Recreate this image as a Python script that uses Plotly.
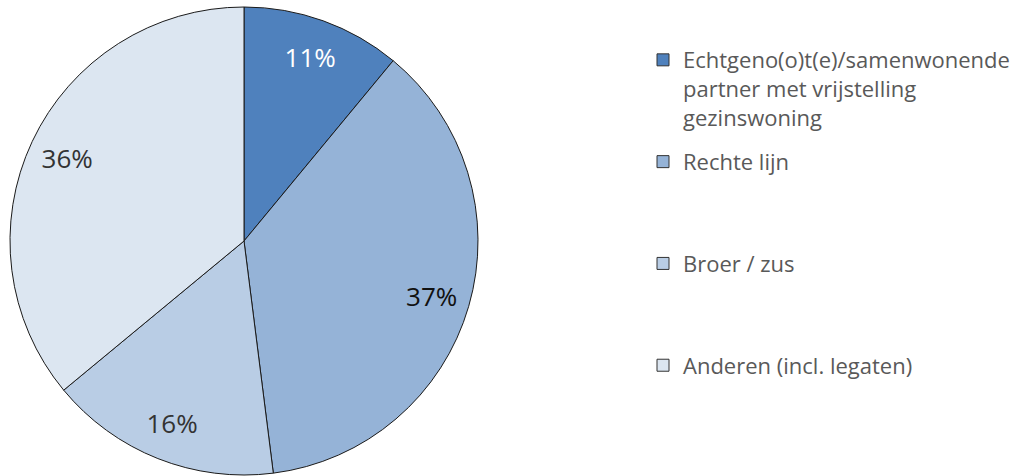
import plotly.graph_objects as go

# data
labels = [
    "Echtgeno(o)t(e)/samenwonende",
    "Rechte lijn",
    "Broer / zus",
    "Anderen (incl. legaten)",
]
legend_lines = [
    ["Echtgeno(o)t(e)/samenwonende", "partner met vrijstelling", "gezinswoning"],
    ["Rechte lijn", " ", " "],
    ["Broer / zus", " ", " "],
    ["Anderen (incl. legaten)"],
]
shares = [11, 37, 16, 36]
colors = ["#4f81bd", "#95b3d7", "#b9cde5", "#dce6f1"]
text_colors = ["#ffffff", "#111111", "#333333", "#333333"]

FONT = "Open Sans, Noto Sans, sans-serif"
pie_domain = dict(x=[10 / 1015, 478 / 1015], y=[1 / 476, 469 / 476])

fig = go.Figure()

# the pie itself, no text
fig.add_trace(
    go.Pie(
        labels=labels,
        values=shares,
        sort=False,
        direction="clockwise",
        rotation=0,
        marker=dict(colors=colors, line=dict(color="#1a1a1a", width=1)),
        textinfo="none",
        hoverinfo="label+percent",
        showlegend=False,
        domain=pie_domain,
    )
)

# transparent ring on top, only to place the percentages near the rim
fig.add_trace(
    go.Pie(
        labels=labels,
        values=shares,
        sort=False,
        direction="clockwise",
        rotation=0,
        hole=0.67,
        marker=dict(colors=["rgba(0,0,0,0)"] * len(shares), line=dict(width=0)),
        texttemplate="%{value}%",
        textposition="inside",
        insidetextorientation="horizontal",
        textfont=dict(family=FONT, size=26, color=text_colors),
        hoverinfo="skip",
        showlegend=False,
        domain=pie_domain,
    )
)

# legend entries
for i, lines in enumerate(legend_lines):
    fig.add_trace(
        go.Scatter(
            x=[None],
            y=[None],
            mode="markers",
            name="<br>".join(lines),
            legendgroup=f"g{i}",
            marker=dict(
                symbol="square",
                size=12,
                color=colors[i],
                line=dict(color="#333333", width=1),
            ),
        )
    )

fig.update_xaxes(visible=False)
fig.update_yaxes(visible=False)
fig.update_layout(
    width=1015,
    height=476,
    margin=dict(l=0, r=0, t=0, b=0),
    paper_bgcolor="white",
    plot_bgcolor="white",
    uniformtext=dict(minsize=26, mode="show"),
    legend=dict(
        x=643 / 1015,
        y=0.918,
        xanchor="left",
        yanchor="top",
        valign="top",
        font=dict(family=FONT, size=22, color="#595959"),
        itemwidth=30,
        tracegroupgap=13,
        bgcolor="rgba(0,0,0,0)",
    ),
)

fig.write_html(
    "out.html",
    config={"displayModeBar": False},
    post_script="document.body.style.margin='0';",
)
